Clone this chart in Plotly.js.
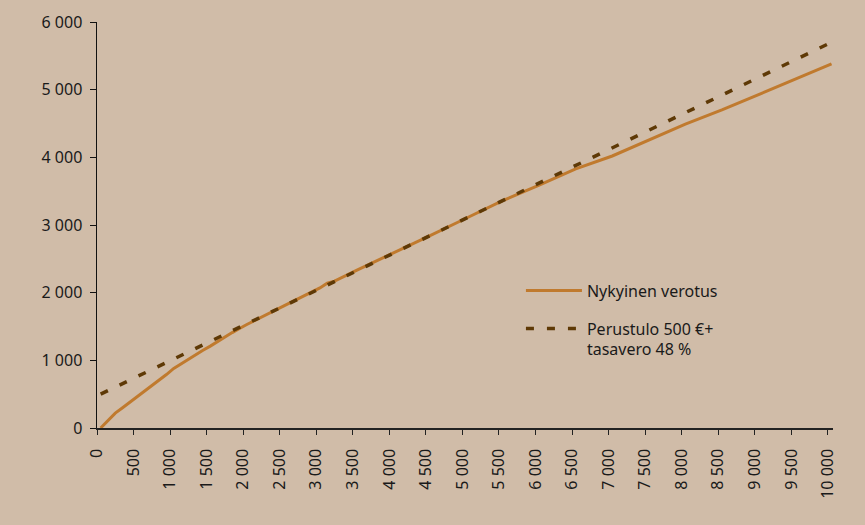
<!DOCTYPE html>
<html>
<head>
<meta charset="utf-8">
<script src="https://cdn.plot.ly/plotly-3.0.1.min.js"></script>
<style>html,body{margin:0;padding:0;background:#d0bca8;}#chart{width:865px;height:525px;}</style>
</head>
<body>
<div id="chart"></div>
<script>
// Income (€/month) on x
const incomeCurrent = [0,100,200,300,400,500,600,700,800,900,1000,1100,1200,1300,1400,1500,1600,1700,1800,1900,2000,2500,3000,3100,3200,3500,4000,4500,5000,5500,6000,6500,7000,7500,8000,8500,9000,9500,10000];
const netCurrent    = [0,110,220,300,380,460,545,625,700,790,880,950,1020,1085,1150,1210,1280,1345,1410,1470,1530,1800,2070,2140,2170,2330,2580,2840,3100,3360,3590,3830,4020,4260,4490,4700,4930,5150,5380];
const incomeBasic   = [0,500,1000,1500,2000,2500,3000,3500,4000,4500,5000,5500,6000,6500,7000,7500,8000,8500,9000,9500,10000];
const netBasic      = [500,760,1020,1280,1540,1800,2060,2320,2580,2840,3100,3360,3620,3880,4140,4400,4660,4920,5180,5440,5700];
const seriesNames   = ["Nykyinen verotus", "Perustulo 500 €+<br>tasavero 48 %"];
const xTickValues   = [0,500,1000,1500,2000,2500,3000,3500,4000,4500,5000,5500,6000,6500,7000,7500,8000,8500,9000,9500,10000];
const xTickLabels   = ["0","500","1 000","1 500","2 000","2 500","3 000","3 500","4 000","4 500","5 000","5 500","6 000","6 500","7 000","7 500","8 000","8 500","9 000","9 500","10 000"];
const yTickValues   = [0,1000,2000,3000,4000,5000,6000];
const yTickLabels   = ["0","1 000","2 000","3 000","4 000","5 000","6 000"];

const font = {family: "Noto Sans, Open Sans, sans-serif", size: 16, color: "#1a1a1a"};
// category-style half-step offset of the ticks (as in the original spreadsheet chart)
const halfStep = 50;

const traces = [
  {x: incomeCurrent, y: netCurrent, name: seriesNames[0], legendgroup: "a", type: "scatter", mode: "lines",
   line: {color: "#c07a2e", width: 3}},
  {x: incomeBasic, y: netBasic, name: seriesNames[1], legendgroup: "b", type: "scatter", mode: "lines",
   line: {color: "#5e3906", width: 3.5, dash: "8px,13px"}}
];

const layout = {
  width: 865, height: 525,
  paper_bgcolor: "#d0bca8", plot_bgcolor: "#d0bca8",
  margin: {l: 97, r: 32, t: 22, b: 97},
  font: font,
  showlegend: true,
  legend: {x: 0.576, y: 0.38, xanchor: "left", yanchor: "top", bgcolor: "rgba(0,0,0,0)",
           font: font, valign: "top", tracegroupgap: 14, itemwidth: 56},
  xaxis: {
    range: [-halfStep, 10020], showgrid: false, zeroline: false,
    showline: true, linecolor: "#222", linewidth: 1.5,
    ticks: "outside", ticklen: 5, tickcolor: "#222",
    tickvals: xTickValues.map(v => v - halfStep), ticktext: xTickLabels, tickangle: -90,
    ticklabelstandoff: 8, tickfont: font
  },
  yaxis: {
    range: [0, 6000], showgrid: false, zeroline: false,
    showline: true, linecolor: "#111", linewidth: 1.5,
    ticks: "outside", ticklen: 6, tickcolor: "#111",
    tickvals: yTickValues, ticktext: yTickLabels, tickfont: font, ticklabelstandoff: 4
  }
};

Plotly.newPlot("chart", traces, layout, {displayModeBar: false, staticPlot: true});
</script>
</body>
</html>
